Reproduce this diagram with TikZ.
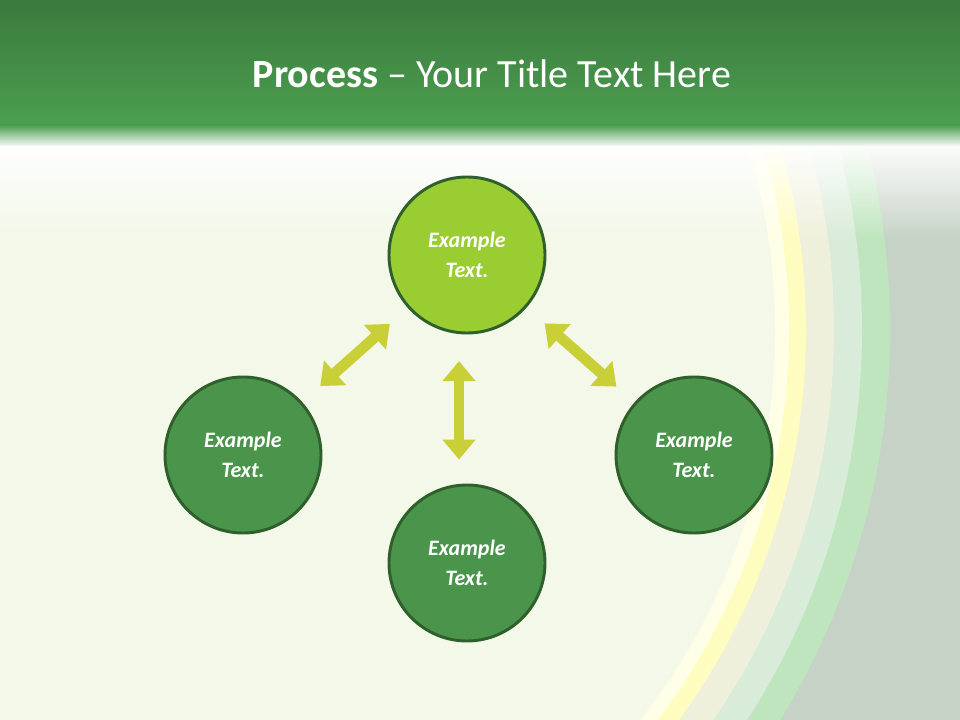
\documentclass[tikz,border=0pt]{standalone}
\usepackage{fontspec}
\setmainfont{Carlito}
\usetikzlibrary{arrows.meta,fadings}
\definecolor{hdrA}{HTML}{3A7A3C}
\definecolor{hdrB}{HTML}{4C9E50}
\definecolor{bgl}{HTML}{F3F8E8}
\definecolor{greyg}{HTML}{C6D2C6}
\definecolor{cdark}{HTML}{4A944C}
\definecolor{clight}{HTML}{9ACD32}
\definecolor{cedge}{HTML}{2F5F2A}
\definecolor{arr}{HTML}{C9CF36}
\tikzset{
 proc/.style={circle,draw=cedge,line width=2.2pt,minimum size=117pt,inner sep=0pt,align=center,text=white,font=\fontsize{16.5}{22}\selectfont\bfseries\itshape},
 dbl/.style={arr,line width=8pt,{Triangle[width=24pt,length=15pt]}-{Triangle[width=24pt,length=15pt]}}
}
\begin{document}
\begin{tikzpicture}[x=0.75pt,y=-0.75pt]
\useasboundingbox (0,0) rectangle (960,720);
\fill[greyg] (0,0) rectangle (960,720);
\begin{scope}
\clip (0,0) rectangle (960,720);
\fill[fill=green!18!greyg!70!white] (144,330) circle (746);
\fill[fill=green!10!greyg!50!white] (144,330) circle (718);
\fill[fill=yellow!20!greyg!40!white] (144,330) circle (690);
\fill[fill=yellow!25!white] (144,330) circle (662);
\fill[fill=yellow!10!white] (144,330) circle (645);
\fill[bgl] (144,330) circle (631);
\end{scope}
\fill[white,path fading=south,opacity=0.95] (0,145) rectangle (960,240);
\shade[top color=hdrA,bottom color=hdrB] (0,0) rectangle (960,125);
\shade[top color=hdrB,bottom color=white!95!hdrB] (0,125) rectangle (960,146);
\node[text=white,font=\fontsize{30}{36}\selectfont] (title) at (492,74) {\textbf{Process} -- Your Title Text Here};
\node[proc,fill=clight] (top) at (467,255) {Example\\Text.};
\node[proc,fill=cdark] (left) at (243,455) {Example\\Text.};
\node[proc,fill=cdark] (right) at (694,455) {Example\\Text.};
\node[proc,fill=cdark] (bot) at (467,563) {Example\\Text.};
\draw[dbl,shorten <=18pt,shorten >=18pt] (top) -- (left);
\draw[dbl,shorten <=18pt,shorten >=18pt] (top) -- (right);
\draw[dbl,shorten <=20pt,shorten >=18pt] ([xshift=-6pt]top.south) -- ([xshift=-6pt]bot.north);
\end{tikzpicture}
\end{document}
